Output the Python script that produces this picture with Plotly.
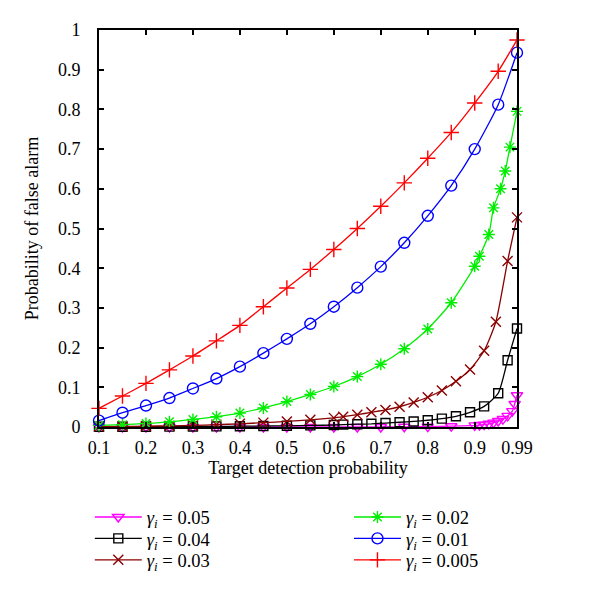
import plotly.graph_objects as go

# ---- data ----
x_red = [0.1, 0.15, 0.2, 0.25, 0.3, 0.35, 0.4, 0.45, 0.5, 0.55, 0.6, 0.65, 0.7, 0.75, 0.8, 0.85, 0.9, 0.95, 0.99]
y_red = [0.047, 0.078, 0.11, 0.144, 0.179, 0.217, 0.256, 0.303, 0.35, 0.397, 0.447, 0.5, 0.556, 0.615, 0.677, 0.742, 0.816, 0.896, 0.975]

x_blue = [0.1, 0.15, 0.2, 0.25, 0.3, 0.35, 0.4, 0.45, 0.5, 0.55, 0.6, 0.65, 0.7, 0.75, 0.8, 0.85, 0.9, 0.95, 0.99]
y_blue = [0.016, 0.036, 0.054, 0.073, 0.097, 0.122, 0.152, 0.186, 0.222, 0.26, 0.303, 0.351, 0.404, 0.464, 0.532, 0.608, 0.7, 0.812, 0.943]

x_green = [0.1, 0.15, 0.2, 0.25, 0.3, 0.35, 0.4, 0.45, 0.5, 0.55, 0.6, 0.65, 0.7, 0.75, 0.8, 0.85,
           0.9, 0.91, 0.93, 0.94, 0.955, 0.965, 0.975, 0.99]
y_green = [0.004, 0.006, 0.009, 0.013, 0.019, 0.026, 0.035, 0.048, 0.064, 0.082, 0.102, 0.127, 0.158, 0.197, 0.247, 0.313,
           0.405, 0.43, 0.485, 0.552, 0.60, 0.645, 0.705, 0.795]

x_brown = [0.1, 0.15, 0.2, 0.25, 0.3, 0.35, 0.4, 0.45, 0.5, 0.55, 0.6, 0.62, 0.65, 0.68, 0.71, 0.74, 0.77,
           0.8, 0.83, 0.86, 0.89, 0.92, 0.945, 0.97, 0.99]
y_brown = [0.001, 0.0015, 0.002, 0.003, 0.004, 0.006, 0.008, 0.011, 0.014, 0.018, 0.023, 0.026, 0.031, 0.037, 0.043,
           0.051, 0.062, 0.075, 0.092, 0.115, 0.145, 0.192, 0.265, 0.418, 0.528]

x_black = [0.1, 0.15, 0.2, 0.25, 0.3, 0.35, 0.4, 0.45, 0.5, 0.55, 0.6, 0.62, 0.65, 0.68, 0.71, 0.74, 0.77,
           0.8, 0.83, 0.86, 0.89, 0.92, 0.95, 0.97, 0.99]
y_black = [0.0005, 0.0006, 0.0008, 0.001, 0.0012, 0.0015, 0.002, 0.0025, 0.003, 0.004, 0.005, 0.006, 0.007, 0.008,
           0.01, 0.012, 0.014, 0.017, 0.021, 0.027, 0.037, 0.052, 0.085, 0.168, 0.248]

x_mag = [0.1, 0.15, 0.2, 0.25, 0.3, 0.35, 0.4, 0.45, 0.5, 0.55, 0.6, 0.65, 0.7, 0.75, 0.8, 0.85,
         0.9, 0.91, 0.92, 0.93, 0.94, 0.95, 0.96, 0.97, 0.98, 0.985, 0.99]
y_mag = [0, 0, 0, 0, 0, 0, 0, 0, 0, 0, 0, 0, 0, 0.0005, 0.001, 0.002,
         0.004, 0.005, 0.006, 0.008, 0.011, 0.015, 0.02, 0.028, 0.04, 0.058, 0.08]

x_ticks = [0.1, 0.2, 0.3, 0.4, 0.5, 0.6, 0.7, 0.8, 0.9, 0.99]
x_tick_labels = ["0.1", "0.2", "0.3", "0.4", "0.5", "0.6", "0.7", "0.8", "0.9", "0.99"]
y_ticks = [0, 0.1, 0.2, 0.3, 0.4, 0.5, 0.6, 0.7, 0.8, 0.9, 1]
y_tick_labels = ["0", "0.1", "0.2", "0.3", "0.4", "0.5", "0.6", "0.7", "0.8", "0.9", "1"]

legend_labels = ["0.05", "0.04", "0.03", "0.02", "0.01", "0.005"]

FONT = "Liberation Serif"

series = [
    # x, y, color, symbol, size
    (x_mag, y_mag, "#ff00ff", "triangle-down-open", 10),
    (x_black, y_black, "#000000", "square-open", 9),
    (x_brown, y_brown, "#8b0000", "x-thin-open", 10),
    (x_green, y_green, "#00ee00", "asterisk-open", 10),
    (x_blue, y_blue, "#0000ff", "circle-open", 11),
    (x_red, y_red, "#ff0000", "cross-thin-open", 11),
]

fig = go.Figure()
for i, (xs, ys, col, sym, sz) in enumerate(series):
    lg = "legend" if i == 0 else f"legend{i + 1}"
    fig.add_trace(go.Scatter(
        x=xs, y=ys, name=f"<i>γ<sub>i</sub></i> = {legend_labels[i]}", mode="lines+markers",
        line=dict(color=col, width=1.3, shape="spline", smoothing=0.6),
        marker=dict(symbol=sym, size=sz, color=col, line=dict(color=col, width=1.4)),
        cliponaxis=False, legend=lg,
    ))

axis_common = dict(
    showline=True, linecolor="black", linewidth=2, mirror="ticks",
    ticks="inside", ticklen=5, tickwidth=1.5, tickcolor="black",
    showgrid=False, zeroline=False,
    tickfont=dict(family=FONT, size=18, color="black"),
)

fig.update_xaxes(range=[0.1, 0.99], tickvals=x_ticks, ticktext=x_tick_labels,
                 title=dict(text="Target detection probability", font=dict(family=FONT, size=18, color="black"),
                            standoff=3),
                 ticklabelstandoff=3,
                 **axis_common)
fig.update_yaxes(range=[0, 1], tickvals=y_ticks, ticktext=y_tick_labels,
                 title=dict(text="Probability of false alarm", font=dict(family=FONT, size=18, color="black"),
                            standoff=15),
                 ticklabelstandoff=13,
                 **axis_common)

legend_common = dict(
    font=dict(family=FONT, size=18.5, color="black"),
    bgcolor="rgba(0,0,0,0)", borderwidth=0,
    orientation="v", xanchor="left", yanchor="top", itemwidth=47,
)
col_x = [-0.022, -0.022, -0.022, 0.598, 0.598, 0.598]
row_y = [-0.180, -0.234, -0.288, -0.180, -0.234, -0.288]
legends = {}
for i in range(6):
    key = "legend" if i == 0 else f"legend{i + 1}"
    legends[key] = dict(x=col_x[i], y=row_y[i], **legend_common)

fig.update_layout(
    width=600, height=593,
    margin=dict(l=91, r=91, t=20, b=174),
    plot_bgcolor="white", paper_bgcolor="white",
    showlegend=True,
    **legends,
)

fig.write_html("out.html")
